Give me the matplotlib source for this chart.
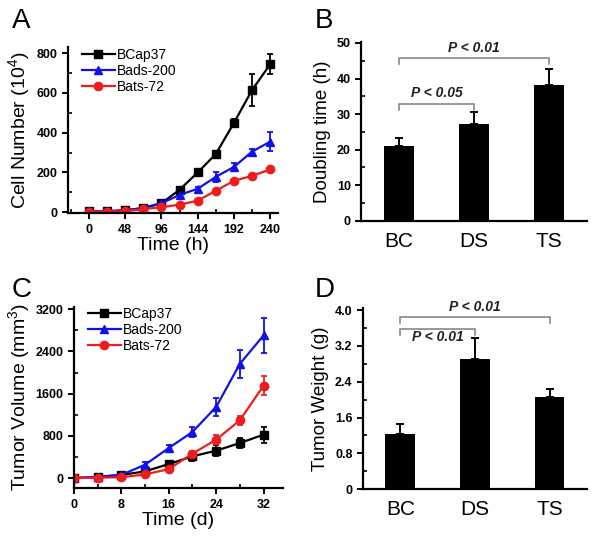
import numpy as np
import matplotlib.pyplot as plt
from matplotlib.lines import Line2D
from matplotlib.ticker import MultipleLocator

plt.rcParams["font.family"] = ["Liberation Sans", "DejaVu Sans"]
plt.rcParams["mathtext.fontset"] = "custom"
plt.rcParams["mathtext.rm"] = "Liberation Sans"

# Panel A: in vitro growth
hours = [0, 24, 48, 72, 96, 120, 144, 168, 192, 216, 240]
bcap_cells = [5, 5, 10, 20, 45, 113, 200, 293, 450, 615, 745]
bcap_cells_err = [3, 3, 4, 5, 6, 8, 10, 12, 20, 80, 50]
bads_cells = [5, 5, 8, 22, 45, 87, 118, 178, 228, 305, 355]
bads_cells_err = [3, 3, 4, 5, 6, 8, 10, 25, 18, 15, 48]
bats_cells = [3, 3, 5, 15, 25, 38, 58, 108, 158, 183, 215]
bats_cells_err = [2, 2, 3, 4, 5, 6, 8, 10, 10, 10, 12]

# Panel B: doubling time
groups = ["BC", "DS", "TS"]
doubling = [21.1, 27.2, 38.3]
doubling_err = [2.3, 3.4, 4.5]

# Panel C: tumour volume
days = [0, 4, 8, 12, 16, 20, 24, 28, 32]
bcap_vol = [0, 20, 60, 127, 266, 412, 520, 665, 824]
bcap_vol_err = [10, 20, 25, 30, 50, 90, 110, 100, 150]
bads_vol = [0, 25, 60, 253, 570, 875, 1350, 2167, 2706]
bads_vol_err = [10, 20, 30, 50, 60, 100, 170, 270, 330]
bats_vol = [0, 10, 15, 70, 170, 463, 729, 1096, 1755]
bats_vol_err = [10, 15, 20, 30, 40, 60, 80, 80, 180]

# Panel D: tumour weight
weight = [1.23, 2.90, 2.06]
weight_err = [0.22, 0.48, 0.17]

series_style = [
    ("BCap37", "black", "s"),
    ("Bads-200", "#1010e8", "^"),
    ("Bats-72", "#ee1c1c", "o"),
]


def style_axes(ax):
    for side in ("top", "right"):
        ax.spines[side].set_visible(False)
    for side in ("left", "bottom"):
        ax.spines[side].set_linewidth(1.6)
    ax.tick_params(which="major", direction="out", length=4, width=1.4,
                   labelsize=9)
    ax.tick_params(which="minor", direction="in", length=3, width=1.2)
    for lbl in ax.get_yticklabels() + ax.get_xticklabels():
        lbl.set_fontweight("bold")


def growth_panel(ax, x, ys, errs):
    handles = []
    for (name, color, marker), y, e in zip(series_style, ys, errs):
        ax.errorbar(x, y, yerr=e, color=color, marker=marker, markersize=6,
                    linewidth=1.6, elinewidth=1.3, capsize=2.5, capthick=1.3)
        handles.append(Line2D([], [], color=color, marker=marker,
                              markersize=6, linewidth=1.6, label=name))
    ax.legend(handles=handles, loc="upper left", frameon=False, fontsize=10,
              handlelength=2.4, handletextpad=0.15, labelspacing=0.15,
              borderaxespad=0.0, bbox_to_anchor=(0.04, 1.03))


def bar_panel(ax, vals, errs):
    pos = np.arange(len(groups))
    ax.bar(pos, vals, width=0.4, color="black")
    ax.errorbar(pos, vals, yerr=[np.zeros(len(vals)), errs], fmt="none",
                ecolor="black", elinewidth=1.4, capsize=3, capthick=1.4)
    ax.set_xticks(pos)
    ax.set_xticklabels(groups)
    ax.set_xlim(-0.5, 2.5)


def bracket(ax, x0, x1, y, drop, text, ty):
    ax.plot([x0, x0, x1, x1], [y - drop, y, y, y - drop], color="#888888",
            linewidth=1.2, clip_on=False)
    ax.text((x0 + x1) / 2, ty, text, ha="center", va="center", fontsize=10,
            fontweight="bold", style="italic", color="#222222")


fig = plt.figure(figsize=(6, 5.37), dpi=100)

# A
axA = fig.add_axes([0.113, 0.603, 0.350, 0.309])
growth_panel(axA, hours, [bcap_cells, bads_cells, bats_cells],
             [bcap_cells_err, bads_cells_err, bats_cells_err])
axA.set_xlim(-28, 250)
axA.set_ylim(-5, 830)
axA.xaxis.set_major_locator(MultipleLocator(48))
axA.xaxis.set_minor_locator(MultipleLocator(24))
axA.yaxis.set_major_locator(MultipleLocator(200))
axA.yaxis.set_minor_locator(MultipleLocator(100))
axA.set_xlabel("Time (h)", fontsize=14, labelpad=1)
axA.set_ylabel("Cell Number (10$^4$)", fontsize=14, labelpad=2)
style_axes(axA)

# B
axB = fig.add_axes([0.602, 0.589, 0.376, 0.333])
bar_panel(axB, doubling, doubling_err)
axB.set_ylim(0, 50.3)
axB.yaxis.set_major_locator(MultipleLocator(10))
axB.yaxis.set_minor_locator(MultipleLocator(5))
axB.set_ylabel("Doubling time (h)", fontsize=13.5, labelpad=4)
style_axes(axB)
axB.tick_params(axis="x", length=0, labelsize=15, pad=8)
for lbl in axB.get_xticklabels():
    lbl.set_fontweight("normal")
bracket(axB, 0, 1, 32.7, 1.6, "P < 0.05", 35.8)
bracket(axB, 0, 2, 45.9, 1.7, "P < 0.01", 48.6)

# C
axC = fig.add_axes([0.123, 0.091, 0.349, 0.338])
growth_panel(axC, days, [bcap_vol, bads_vol, bats_vol],
             [bcap_vol_err, bads_vol_err, bats_vol_err])
axC.set_xlim(0, 35.3)
axC.set_ylim(-190, 3250)
axC.xaxis.set_major_locator(MultipleLocator(8))
axC.xaxis.set_minor_locator(MultipleLocator(4))
axC.yaxis.set_major_locator(MultipleLocator(800))
axC.yaxis.set_minor_locator(MultipleLocator(400))
axC.set_xlabel("Time (d)", fontsize=14, labelpad=1)
axC.set_ylabel("Tumor Volume (mm$^3$)", fontsize=14, labelpad=2)
style_axes(axC)

# D
axD = fig.add_axes([0.605, 0.089, 0.373, 0.337])
bar_panel(axD, weight, weight_err)
axD.set_ylim(0, 4.04)
axD.yaxis.set_major_locator(MultipleLocator(0.8))
axD.yaxis.set_minor_locator(MultipleLocator(0.4))
axD.yaxis.set_major_formatter(lambda v, p: "0" if v == 0 else f"{v:.1f}")
axD.set_ylabel("Tumor Weight (g)", fontsize=13.5, labelpad=4)
style_axes(axD)
axD.tick_params(axis="x", length=0, labelsize=15, pad=8)
for lbl in axD.get_xticklabels():
    lbl.set_fontweight("normal")
bracket(axD, 0, 2, 3.84, 0.14, "P < 0.01", 4.06)
bracket(axD, 0, 1, 3.57, 0.13, "P < 0.01", 3.40)

for lab, (x, y) in zip("ABCD", [(0.02, 0.985), (0.525, 0.985),
                                (0.02, 0.485), (0.525, 0.485)]):
    fig.text(x, y, lab, fontsize=20, ha="left", va="top")

fig.savefig("out.png", dpi=100)
